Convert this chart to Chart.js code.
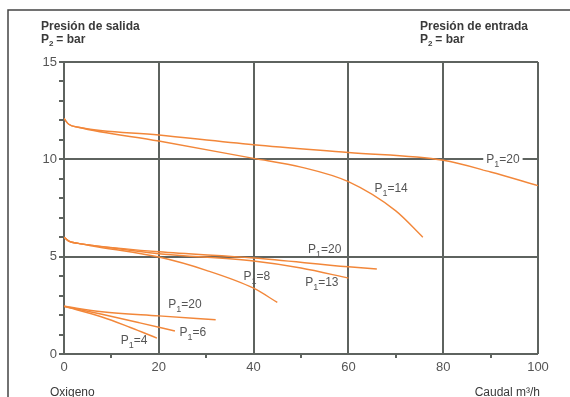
<!DOCTYPE html>
<html>
<head>
<meta charset="utf-8">
<script src="https://cdn.jsdelivr.net/npm/chart.js@4/dist/chart.umd.min.js"></script>
<style>
  body { margin: 0; background: #fff; }
  canvas { display: block; }
</style>
</head>
<body>
<canvas id="myChart" width="570" height="397"></canvas>
<script>
// caudal (m3/h) / presion de salida (bar)
const hi20X = [0, 1, 3, 20, 40, 60, 80, 90, 100];
const hi20Y = [12.1, 11.8, 11.65, 11.25, 10.75, 10.35, 9.95, 9.35, 8.65];
const hi14X = [0, 1, 3, 20, 40, 50, 60, 70, 75.7];
const hi14Y = [12.1, 11.8, 11.65, 10.94, 10.05, 9.6, 8.85, 7.35, 6.0];

const mid20X = [0, 1, 3, 6, 20, 40, 60, 66];
const mid20Y = [6.0, 5.8, 5.68, 5.58, 5.25, 4.93, 4.48, 4.37];
const mid13X = [0, 1, 3, 6, 20, 40, 50, 60];
const mid13Y = [6.0, 5.8, 5.68, 5.58, 5.15, 4.78, 4.42, 3.9];
const mid8X = [0, 1, 3, 6, 20, 30, 40, 45];
const mid8Y = [6.0, 5.8, 5.68, 5.55, 4.98, 4.3, 3.38, 2.65];

const lo20X = [0, 8, 20, 32];
const lo20Y = [2.45, 2.17, 1.96, 1.76];
const lo6X = [0, 8, 16, 23.4];
const lo6Y = [2.45, 2.04, 1.6, 1.18];
const lo4X = [0, 8, 14, 19.6];
const lo4Y = [2.45, 1.9, 1.36, 0.82];

const xTicks = [0, 20, 40, 60, 80, 100];
const yTicks = [0, 5, 10, 15];

// curve labels: [text, subscript, rest, x, y, white box]
const curveLabels = [
  ['P', '1', '=20', 92.6, 10, true],
  ['P', '1', '=14', 69, 8.5, false],
  ['P', '1', '=20', 55, 5.35, false],
  ['P', '1', '=8', 40.7, 3.95, false],
  ['P', '1', '=13', 54.4, 3.65, false],
  ['P', '1', '=20', 25.5, 2.52, false],
  ['P', '1', '=6', 27.2, 1.08, false],
  ['P', '1', '=4', 14.8, 0.67, false]
];

const orange = '#f2873a';
const gridCol = '#5e635f';
const textCol = '#3a3a3a';

function pts(xs, ys) {
  return xs.map((x, i) => ({x: x, y: ys[i]}));
}

function curve(xs, ys) {
  return {
    data: pts(xs, ys),
    borderColor: orange,
    borderWidth: 1.4,
    pointRadius: 0,
    fill: false,
    cubicInterpolationMode: 'monotone'
  };
}

// draws "P" + small subscript + rest, centred on cx
function subText(ctx, cx, cy, main, sub, rest, size, box) {
  ctx.font = size + 'px "Liberation Sans", Arial, sans-serif';
  const w1 = ctx.measureText(main).width;
  const w3 = ctx.measureText(rest).width;
  ctx.font = Math.round(size * 0.72) + 'px "Liberation Sans", Arial, sans-serif';
  const w2 = ctx.measureText(sub).width;
  const total = w1 + w2 + w3;
  let x = cx - total / 2;
  if (box) {
    ctx.fillStyle = '#fff';
    ctx.fillRect(x - 3, cy - size / 2 - 1, total + 6, size + 5);
  }
  ctx.fillStyle = '#555';
  ctx.textBaseline = 'middle';
  ctx.textAlign = 'left';
  ctx.font = size + 'px "Liberation Sans", Arial, sans-serif';
  ctx.fillText(main, x, cy);
  x += w1;
  ctx.font = Math.round(size * 0.72) + 'px "Liberation Sans", Arial, sans-serif';
  ctx.fillText(sub, x, cy + size * 0.4);
  x += w2;
  ctx.font = size + 'px "Liberation Sans", Arial, sans-serif';
  ctx.fillText(rest, x, cy);
}

function titleBlock(ctx, x, line1) {
  ctx.fillStyle = textCol;
  ctx.textAlign = 'left';
  ctx.textBaseline = 'alphabetic';
  ctx.font = 'bold 12px "Liberation Sans", Arial, sans-serif';
  ctx.fillText(line1, x, 30);
  ctx.fillText('P', x, 43);
  const wp = ctx.measureText('P').width;
  ctx.font = 'bold 8px "Liberation Sans", Arial, sans-serif';
  ctx.fillText('2', x + wp, 46);
  ctx.font = 'bold 12px "Liberation Sans", Arial, sans-serif';
  ctx.fillText(' = bar', x + wp + 4, 43);
}

const extras = {
  id: 'extras',
  afterDatasetsDraw(chart) {
    const ctx = chart.ctx;
    const xs = chart.scales.x, ys = chart.scales.y;
    ctx.save();
    curveLabels.forEach(l => {
      subText(ctx, xs.getPixelForValue(l[3]), ys.getPixelForValue(l[4]), l[0], l[1], l[2], 12, l[5]);
    });
    // outer frame (top and left only)
    ctx.strokeStyle = '#444';
    ctx.lineWidth = 1.5;
    ctx.beginPath();
    ctx.moveTo(8, 397);
    ctx.lineTo(8, 10);
    ctx.lineTo(570, 10);
    ctx.stroke();

    titleBlock(ctx, 41, 'Presión de salida');
    titleBlock(ctx, 420, 'Presión de entrada');

    ctx.fillStyle = textCol;
    ctx.font = '12px "Liberation Sans", Arial, sans-serif';
    ctx.textAlign = 'left';
    ctx.fillText('Oxigeno', 50, 396);
    ctx.textAlign = 'right';
    ctx.fillText('Caudal m³/h', 540, 396);
    ctx.restore();
  }
};

const ctx = document.getElementById('myChart');

new Chart(ctx, {
  type: 'line',
  data: {
    datasets: [
      curve(hi20X, hi20Y),
      curve(hi14X, hi14Y),
      curve(mid20X, mid20Y),
      curve(mid13X, mid13Y),
      curve(mid8X, mid8Y),
      curve(lo20X, lo20Y),
      curve(lo6X, lo6Y),
      curve(lo4X, lo4Y)
    ]
  },
  options: {
    responsive: false,
    animation: false,
    layout: { padding: { top: 62, right: 32, left: 0, bottom: 0 } },
    plugins: { legend: { display: false }, tooltip: { enabled: false } },
    scales: {
      x: {
        type: 'linear',
        min: 0,
        max: 100,
        afterFit: s => { s.height = 43; },
        border: { display: false },
        grid: {
          lineWidth: 2,
          tickLength: 4,
          color: c => xTicks.includes(c.tick.value) ? gridCol : 'rgba(0,0,0,0)',
          tickColor: c => xTicks.includes(c.tick.value) ? 'rgba(0,0,0,0)' : gridCol
        },
        ticks: {
          stepSize: 10,
          autoSkip: false,
          maxRotation: 0,
          padding: 2,
          color: '#555',
          font: { family: '"Liberation Sans", Arial, sans-serif', size: 13 },
          callback: v => xTicks.includes(v) ? v : ''
        }
      },
      y: {
        min: 0,
        max: 15,
        afterFit: s => { s.width = 64; },
        border: { display: false },
        grid: {
          lineWidth: 2,
          tickLength: 5,
          color: c => yTicks.includes(c.tick.value) ? gridCol : 'rgba(0,0,0,0)',
          tickColor: gridCol
        },
        ticks: {
          stepSize: 1,
          autoSkip: false,
          padding: 2,
          color: '#555',
          font: { family: '"Liberation Sans", Arial, sans-serif', size: 13 },
          callback: v => yTicks.includes(v) ? v : ''
        }
      }
    }
  },
  plugins: [extras]
});
</script>
</body>
</html>
